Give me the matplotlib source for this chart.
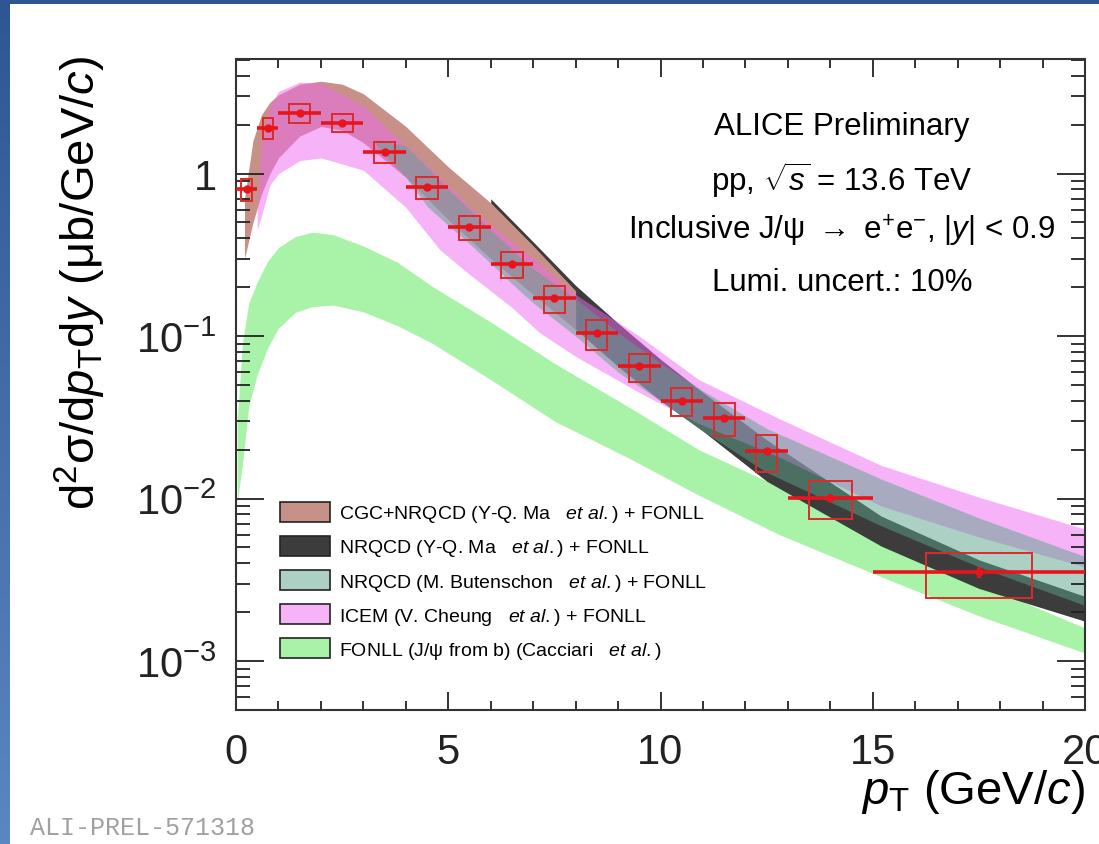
import numpy as np
import matplotlib
matplotlib.use("Agg")
import matplotlib.pyplot as plt
from matplotlib.patches import Rectangle, Patch
from matplotlib.colors import to_rgba, LinearSegmentedColormap
from matplotlib.ticker import MultipleLocator, FixedLocator, NullFormatter

plt.rcParams['font.family'] = ['Liberation Sans', 'DejaVu Sans']
plt.rcParams['mathtext.fontset'] = 'custom'
plt.rcParams['mathtext.rm'] = 'Liberation Sans'
plt.rcParams['mathtext.it'] = 'Liberation Sans:italic'
plt.rcParams['mathtext.bf'] = 'Liberation Sans:bold'

# inclusive J/psi cross section, pp 13.6 TeV
pt = [0.25, 0.75, 1.5, 2.5, 3.5, 4.5, 5.5, 6.5, 7.5, 8.5, 9.5, 10.5, 11.5, 12.5, 14.0, 17.5]
pt_bin = [0.5, 0.5, 1, 1, 1, 1, 1, 1, 1, 1, 1, 1, 1, 1, 2, 5]
xsec = [0.80, 1.91, 2.36, 2.05, 1.36, 0.83, 0.47, 0.277, 0.171, 0.104, 0.065, 0.040,
        0.0313, 0.0196, 0.0101, 0.00353]
stat_rel = [0.03, 0.02, 0.015, 0.015, 0.015, 0.015, 0.02, 0.02, 0.02, 0.02, 0.025, 0.03,
            0.035, 0.04, 0.05, 0.08]
syst_rel = [0.155, 0.148, 0.134, 0.127, 0.148, 0.155, 0.168, 0.182, 0.19, 0.21, 0.196, 0.20,
            0.23, 0.256, 0.263, 0.308]

# model bands (pT, lower, upper)
cgc_pt = [0.2, 0.4, 0.6, 0.8, 1.0, 1.5, 2.0, 2.5, 3.0, 4.0, 5.0, 6.0, 7.0, 8.0]
cgc_lo = [0.3, 0.5, 0.75, 1.0, 1.25, 1.7, 1.95, 1.85, 1.55, 0.95, 0.52, 0.3, 0.18, 0.11]
cgc_hi = [0.7, 1.6, 2.3, 2.75, 3.05, 3.55, 3.7, 3.55, 3.1, 1.95, 1.1, 0.66, 0.36, 0.19]

ma_pt = [6.0, 7.0, 8.0, 9.0, 10.0, 11.0, 12.5, 15.2, 17.5, 20.0]
ma_lo = [0.42, 0.2, 0.11, 0.065, 0.04, 0.026, 0.0128, 0.0051, 0.0028, 0.00176]
ma_hi = [0.70, 0.38, 0.205, 0.12, 0.072, 0.045, 0.023, 0.0078, 0.0042, 0.0025]

but_pt = [3.3, 4.0, 4.5, 5.0, 5.5, 6.0, 6.5, 7.0, 8.0, 9.0, 10.0, 11.0, 12.5, 15.2, 17.5, 20.0]
but_lo = [1.5, 0.95, 0.63, 0.48, 0.37, 0.28, 0.21, 0.16, 0.1, 0.06, 0.04, 0.026, 0.0145,
          0.0068, 0.0038, 0.0022]
but_hi = [1.62, 1.48, 1.1, 0.8, 0.6, 0.45, 0.34, 0.26, 0.17, 0.105, 0.068, 0.046, 0.027,
          0.0132, 0.0076, 0.0044]

icem_pt = [0.5, 0.6, 0.8, 1.0, 1.5, 2.0, 3.0, 4.0, 4.8, 5.5, 6.5, 7.15, 8.0, 9.5, 10.9, 12.8,
           15.2, 17.5, 20.0]
icem_lo = [0.45, 0.55, 0.85, 1.0, 1.2, 1.25, 1.05, 0.62, 0.34, 0.24, 0.15, 0.105, 0.075, 0.045,
           0.029, 0.018, 0.009, 0.0058, 0.0038]
icem_hi = [0.6, 1.5, 2.6, 3.2, 3.65, 3.6, 2.6, 1.48, 0.95, 0.62, 0.38, 0.28, 0.18, 0.1, 0.054,
           0.031, 0.016, 0.0102, 0.0065]

fonll_pt = [0.03, 0.15, 0.3, 0.5, 0.75, 1.0, 1.4, 1.8, 2.3, 3.0, 3.8, 4.6, 6.0, 7.5, 9.3, 10.9,
            12.8, 15.2, 17.5, 20.0]
fonll_lo = [0.0095, 0.016, 0.037, 0.058, 0.085, 0.112, 0.14, 0.152, 0.155, 0.141, 0.116, 0.091,
            0.054, 0.030, 0.0175, 0.0105, 0.006, 0.0033, 0.0019, 0.00112]
fonll_hi = [0.03, 0.09, 0.16, 0.215, 0.29, 0.35, 0.41, 0.436, 0.42, 0.358, 0.285, 0.204, 0.122,
            0.068, 0.036, 0.020, 0.0118, 0.0055, 0.0030, 0.0016]

labels = [r"CGC+NRQCD (Y-Q. Ma   $\mathit{et\ al.}$) + FONLL",
          r"NRQCD (Y-Q. Ma   $\mathit{et\ al.}$) + FONLL",
          r"NRQCD (M. Butenschon   $\mathit{et\ al.}$) + FONLL",
          r"ICEM (V. Cheung   $\mathit{et\ al.}$) + FONLL",
          r"FONLL (J/ψ from b) (Cacciari   $\mathit{et\ al.}$)"]

c_cgc = '#c79188'
c_ma = '#3c3c3c'
c_but = to_rgba('#5aa58a', 0.5)
c_icem = to_rgba('#f069f0', 0.5)
c_fonll = '#a8f3a8'
red = '#e8141c'

W, H = 1099, 845
fig = plt.figure(figsize=(W / 100, H / 100), dpi=100)

# slide frame
frame = fig.add_axes([0, 0, 10 / W, 1])
grad = LinearSegmentedColormap.from_list('frame', ['#5a86c2', '#2e5692'])
frame.imshow(np.linspace(0, 1, 256)[:, None], aspect='auto', cmap=grad, origin='lower')
frame.axis('off')
fig.add_artist(Rectangle((0, 1 - 5 / H), 1, 5 / H, transform=fig.transFigure,
                         color='#2e5692', lw=0))

ax = fig.add_axes([236 / W, 1 - 711 / H, (1085 - 236) / W, (711 - 60) / H])

ax.fill_between(fonll_pt, fonll_lo, fonll_hi, color=c_fonll, lw=0)
ax.fill_between(ma_pt, ma_lo, ma_hi, color=c_ma, lw=0)
ax.fill_between(cgc_pt, cgc_lo, cgc_hi, color=c_cgc, lw=0)
ax.fill_between(icem_pt, icem_lo, icem_hi, color=c_icem, lw=0)
ax.fill_between(but_pt, but_lo, but_hi, color=c_but, lw=0)

# data: stat. bars + syst. boxes
pt_a = np.array(pt)
val = np.array(xsec)
half = np.array(pt_bin) / 2
ax.errorbar(pt_a, val, xerr=half, yerr=val * np.array(stat_rel), fmt='o', color=red,
            ms=5, elinewidth=2.6, capsize=0, zorder=5)
for x, v, hw, s in zip(pt_a, val, half, syst_rel):
    bw = hw / 2
    ax.add_patch(Rectangle((x - bw, v * (1 - s)), 2 * bw, 2 * s * v, fill=False,
                           edgecolor='#dd2a2a', lw=1.4, zorder=4))

ax.set_xlim(0, 20)
ax.set_yscale('log')
ax.set_ylim(5e-4, 5.07)

ax.xaxis.set_major_locator(MultipleLocator(5))
ax.xaxis.set_minor_locator(MultipleLocator(1))
ax.yaxis.set_major_locator(FixedLocator([1e-3, 1e-2, 1e-1, 1]))
ax.yaxis.set_minor_locator(FixedLocator([m * 10.0 ** e for e in range(-4, 1)
                                         for m in range(2, 10)]))
ax.yaxis.set_minor_formatter(NullFormatter())
ax.set_yticklabels([r'$\mathregular{10^{-3}}$', r'$\mathregular{10^{-2}}$',
                    r'$\mathregular{10^{-1}}$', '1'])

ax.tick_params(which='both', direction='in', top=True, right=True, colors='#222222')
ax.tick_params(axis='x', which='major', length=13, width=1.3, labelsize=30, pad=16)
ax.tick_params(axis='x', which='minor', length=6.5, width=1.3)
ax.tick_params(axis='y', which='major', length=20, width=1.3, labelsize=30, pad=14)
ax.tick_params(axis='y', which='minor', length=10, width=1.3)
for sp in ax.spines.values():
    sp.set_linewidth(1.5)
    sp.set_color('#333333')

handles = [Patch(facecolor=c, edgecolor='#222222', lw=1.2)
           for c in [c_cgc, c_ma, c_but, c_icem, c_fonll]]
ax.legend(handles, labels, loc='upper left', bbox_to_anchor=(0.0518, 0.3195),
          frameon=False, fontsize=14, handlelength=2.55, handleheight=1.18,
          labelspacing=0.6, handletextpad=0.5, borderpad=0, borderaxespad=0)

tx = (842 - 236) / 849
info = ['ALICE Preliminary',
        r'pp, $\sqrt{\mathit{s}}$ = 13.6 TeV',
        r'Inclusive J/ψ $\rightarrow$ e$^{+}$e$^{-}$, |$\mathit{y}$| < 0.9',
        'Lumi. uncert.: 10%']
for line, ypx in zip(info, [127, 180, 231, 283]):
    ax.text(tx, (711 - ypx) / 651, line, transform=ax.transAxes,
            ha='center', va='center', fontsize=22.5)

fig.text(80 / W, 1 - 56 / H,
         r'd$^{2}$σ/d$\mathit{p}_{\mathregular{T}}$d$\mathit{y}$ (μb/GeV/$\mathit{c}$)',
         rotation=90, ha='center', va='top', fontsize=34)
fig.text(1085 / W, 1 - 792 / H, r'$\mathit{p}_{\mathregular{T}}$ (GeV/$\mathit{c}$)',
         ha='right', va='center', fontsize=34)
fig.text(30 / W, 1 - 828 / H, 'ALI-PREL-571318', family='Liberation Mono',
         color='#a0a0a0', fontsize=18, ha='left', va='center')

fig.savefig('out.png', dpi=100)
